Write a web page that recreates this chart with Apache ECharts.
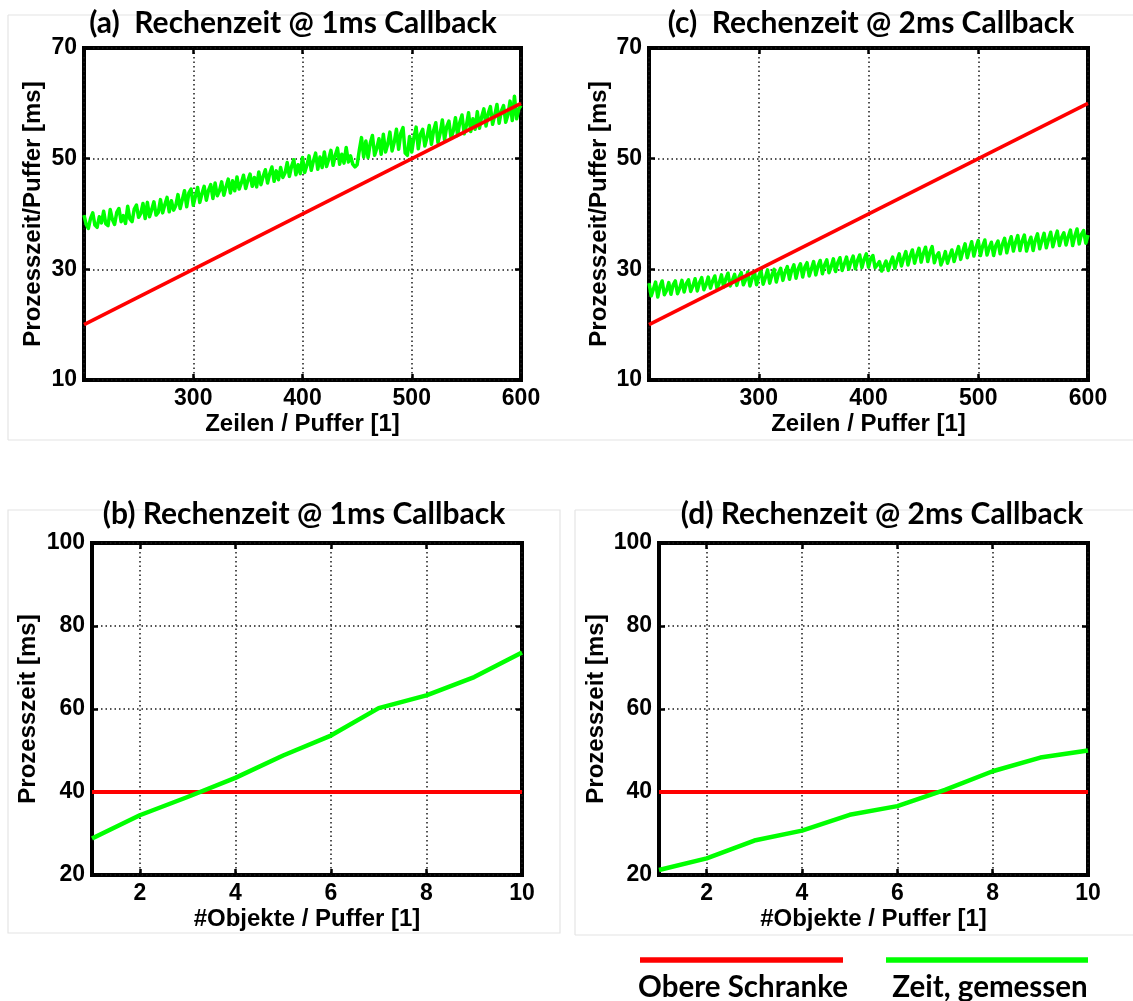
<!DOCTYPE html>
<html><head><meta charset="utf-8">
<script src="https://cdn.jsdelivr.net/npm/echarts@6/dist/echarts.min.js"></script>
<style>html,body{margin:0;padding:0;background:#fff}#c{width:1133px;height:1001px}</style>
</head><body><div id="c"></div>
<script>
// ---- data ----
const zeilen = [200,202,204,206,208,210,212,214,216,218,220,222,224,226,228,230,232,234,236,238,
240,242,244,246,248,250,252,254,256,258,260,262,264,266,268,270,272,274,276,278,
280,282,284,286,288,290,292,294,296,298,300,302,304,306,308,310,312,314,316,318,
320,322,324,326,328,330,332,334,336,338,340,342,344,346,348,350,352,354,356,358,
360,362,364,366,368,370,372,374,376,378,380,382,384,386,388,390,392,394,396,398,
400,402,404,406,408,410,412,414,416,418,420,422,424,426,428,430,432,434,436,438,
440,442,444,446,448,450,452,454,456,458,460,462,464,466,468,470,472,474,476,478,
480,482,484,486,488,490,492,494,496,498,500,502,504,506,508,510,512,514,516,518,
520,522,524,526,528,530,532,534,536,538,540,542,544,546,548,550,552,554,556,558,
560,562,564,566,568,570,572,574,576,578,580,582,584,586,588,590,592,594,596,598,600];
const zeitA = [39.8,38.1,37.4,39.2,40.2,38.0,37.6,39.5,38.4,40.5,
38.2,37.9,40.8,39.0,38.1,40.3,41.0,38.6,39.7,38.3,
41.4,39.1,38.6,40.9,41.6,39.4,40.1,41.9,39.2,42.1,
39.5,40.8,42.2,39.8,40.3,42.6,40.2,41.7,43.0,40.4,
42.4,40.7,41.5,43.5,41.0,42.6,44.2,41.3,43.8,44.5,
41.6,43.2,44.8,42.1,43.7,45.0,42.5,44.3,45.3,42.8,
45.6,43.3,44.2,45.8,43.4,44.9,46.3,43.8,46.0,44.2,
46.7,44.5,45.6,47.0,44.6,46.1,47.2,45.0,46.6,44.9,
47.6,45.3,46.8,48.0,45.6,47.3,48.5,45.9,47.8,46.2,
48.4,46.6,47.4,49.3,46.8,48.6,49.8,47.1,48.9,47.3,
50.2,47.5,48.8,50.5,47.9,49.6,51.0,48.1,50.3,48.4,
51.2,48.6,49.9,51.5,48.8,50.6,51.9,49.0,50.8,49.2,
52.0,49.4,50.5,49.0,48.5,48.9,51.5,53.8,50.3,53.2,
50.2,52.8,54.2,50.6,51.9,53.6,50.8,54.4,51.2,52.6,
54.8,51.4,53.0,55.3,51.7,54.6,55.6,51.0,50.6,54.0,
51.2,53.8,55.7,51.8,54.4,55.3,52.3,53.9,56.0,52.6,
55.1,56.5,52.9,54.6,57.0,53.4,55.8,56.8,53.7,55.0,
57.4,54.2,56.6,57.9,54.5,56.0,58.3,54.9,57.2,55.3,
58.5,55.5,57.6,59.0,55.9,58.2,59.4,56.2,57.9,59.8,
56.4,58.6,59.6,56.6,57.9,60.4,56.9,61.3,57.2,59.0,59.6];
const zeitC = [27.5,25.2,26.4,27.7,25.0,26.9,27.9,25.4,26.2,27.6,
25.5,27.2,27.9,25.6,26.6,28.0,25.9,27.4,28.1,26.0,
27.0,28.3,26.1,27.6,28.5,26.3,27.2,28.6,26.6,27.9,
28.8,26.5,27.6,29.0,26.8,28.3,29.3,27.0,28.0,29.1,
27.1,28.6,29.4,27.2,28.1,29.5,27.0,28.4,29.6,27.2,
28.7,29.8,27.3,28.5,29.9,27.5,29.0,30.0,27.7,29.3,
30.2,28.0,29.5,30.5,28.2,29.8,30.8,28.4,30.1,31.0,
28.6,30.4,31.2,28.8,30.1,31.4,29.0,30.6,31.6,29.2,
30.8,31.7,29.4,30.5,31.9,29.6,31.2,32.1,29.8,31.0,
32.2,30.0,31.4,32.4,30.1,31.6,32.6,30.3,31.8,32.8,
30.4,31.9,32.5,30.3,30.8,31.4,29.7,30.6,31.5,29.8,
31.2,32.2,30.2,31.6,32.8,30.6,32.0,33.2,30.8,32.4,
33.5,31.1,32.6,33.8,31.3,32.9,34.0,31.4,33.1,34.1,
31.2,32.4,33.0,30.8,31.8,33.2,31.1,32.4,33.5,31.4,
32.8,34.1,31.8,33.3,34.6,32.1,33.6,35.0,32.4,34.0,
35.2,32.5,34.2,35.3,32.6,33.9,34.9,32.5,34.3,35.1,
32.8,34.5,35.6,33.0,34.6,35.9,33.3,34.9,36.1,33.4,
35.1,36.2,33.3,34.8,35.8,33.4,35.3,36.4,33.7,35.2,
36.5,33.9,35.4,36.7,34.1,35.6,36.9,34.3,35.8,36.6,
34.4,35.9,37.1,34.3,36.0,37.3,34.6,36.3,37.0,34.7,36.2];
const schrankeX = [200, 600];
const schrankeAC = [20, 60];
const objekte = [1,2,3,4,5,6,7,8,9,10];
const zeitB = [28.8,34.4,38.8,43.4,48.8,53.6,60.2,63.3,67.7,73.6];
const zeitD = [21.2,24.0,28.3,30.7,34.5,36.6,40.5,45.0,48.3,50.0];
const schrankeBD = [40,40,40,40,40,40,40,40,40,40];
const xTicksAC = [200,300,400,500,600];
const xLabelsAC = [300,400,500,600];
const yTicksAC = [10,30,50,70];
const xTicksBD = [2,4,6,8,10];
const yTicksBD = [20,40,60,80,100];
const titles = ['(a)  Rechenzeit @ 1ms Callback','(c)  Rechenzeit @ 2ms Callback','(b) Rechenzeit @ 1ms Callback','(d) Rechenzeit @ 2ms Callback'];
const xNames = ['Zeilen / Puffer [1]','Zeilen / Puffer [1]','#Objekte / Puffer [1]','#Objekte / Puffer [1]'];
const yNames = ['Prozesszeit/Puffer [ms]','Prozesszeit/Puffer [ms]','Prozesszeit [ms]','Prozesszeit [ms]'];
const legendNames = ['Obere Schranke','Zeit, gemessen'];

// ---- layout ----
const grids = [
  {left:84, top:48, width:437, height:332},
  {left:649, top:48, width:439, height:332},
  {left:92, top:543, width:430, height:332},
  {left:659, top:543, width:429, height:332}
];
const titlePos = [[293,8],[871,8],[304,499],[882,499]];
const xRange = [[200,600],[200,600],[1,10],[1,10]];
const yRange = [[10,70],[10,70],[20,100],[20,100]];
const xT = [xTicksAC,xTicksAC,xTicksBD,xTicksBD];
const xL = [xLabelsAC,xLabelsAC,xTicksBD,xTicksBD];
const yT = [yTicksAC,yTicksAC,yTicksBD,yTicksBD];
const xGap = [32,32,32,32];
const yGap = [39,38,52,51];

const RED = '#ff0000', GREEN = '#00ff00';
const tickFont = {color:'#000', fontFamily:'Liberation Sans', fontWeight:'bold', fontSize:23};
const nameFont = {color:'#000', fontFamily:'Liberation Sans', fontWeight:'bold', fontSize:24};
const gridLine = {show:true, lineStyle:{color:'#1a1a1a', width:1.5, type:[1.5,3]}};

const xAxes = [], yAxes = [];
for (let i=0;i<4;i++){
  xAxes.push({type:'value', gridIndex:i, min:xRange[i][0], max:xRange[i][1], position:'bottom',
    axisLine:{show:false},
    axisTick:{show:true, inside:true, length:6, customValues:xT[i], lineStyle:{color:'#000', width:2.5}},
    axisLabel:Object.assign({customValues:xL[i], margin:7}, tickFont),
    splitLine:gridLine,
    name:xNames[i], nameLocation:'middle', nameGap:xGap[i], nameTextStyle:nameFont});
  yAxes.push({type:'value', gridIndex:i, min:yRange[i][0], max:yRange[i][1], position:'left',
    axisLine:{show:false},
    axisTick:{show:true, inside:true, length:6, customValues:yT[i], lineStyle:{color:'#000', width:2.5}},
    axisLabel:Object.assign({customValues:yT[i], margin:7}, tickFont),
    splitLine:gridLine,
    name:yNames[i], nameLocation:'middle', nameGap:yGap[i], nameTextStyle:nameFont});
}
for (let i=0;i<4;i++){
  xAxes.push({type:'value', gridIndex:i, min:xRange[i][0], max:xRange[i][1], position:'top',
    axisLine:{show:false}, axisLabel:{show:false}, splitLine:{show:false},
    axisTick:{show:true, inside:true, length:6, customValues:xT[i], lineStyle:{color:'#000', width:2.5}}});
  yAxes.push({type:'value', gridIndex:i, min:yRange[i][0], max:yRange[i][1], position:'right',
    axisLine:{show:false}, axisLabel:{show:false}, splitLine:{show:false},
    axisTick:{show:true, inside:true, length:6, customValues:yT[i], lineStyle:{color:'#000', width:2.5}}});
}

function pairs(xs, ys){ return xs.map((x,k)=>[x, ys[k]]); }
function line(name, gi, data, color, width){
  return {type:'line', name, xAxisIndex:gi, yAxisIndex:gi, data, showSymbol:false, symbol:'none',
    lineStyle:{color, width, join:'round'}, itemStyle:{color}, animation:false, silent:true, clip:true};
}
const series = [
  line(legendNames[1], 0, pairs(zeilen, zeitA), GREEN, 3.5),
  line(legendNames[0], 0, pairs(schrankeX, schrankeAC), RED, 3.5),
  line(legendNames[1], 1, pairs(zeilen, zeitC), GREEN, 3.5),
  line(legendNames[0], 1, pairs(schrankeX, schrankeAC), RED, 3.5),
  line(legendNames[0], 2, pairs(objekte, schrankeBD), RED, 4),
  line(legendNames[1], 2, pairs(objekte, zeitB), GREEN, 4.5),
  line(legendNames[0], 3, pairs(objekte, schrankeBD), RED, 4),
  line(legendNames[1], 3, pairs(objekte, zeitD), GREEN, 4.5)
];

const titleFont = {color:'#000', fontFamily:'Lato', fontWeight:'bold', fontSize:30};
const frameStyle = {stroke:'#e4e4e4', lineWidth:1.2, fill:null};
const graphic = [
  {type:'line', shape:{x1:8,y1:15,x2:1133,y2:15}, style:frameStyle, silent:true},
  {type:'line', shape:{x1:8,y1:15,x2:8,y2:440}, style:frameStyle, silent:true},
  {type:'line', shape:{x1:8,y1:440,x2:1133,y2:440}, style:frameStyle, silent:true},
  {type:'rect', shape:{x:8,y:510,width:552,height:423}, style:frameStyle, silent:true},
  {type:'line', shape:{x1:575,y1:510,x2:1133,y2:510}, style:frameStyle, silent:true},
  {type:'line', shape:{x1:575,y1:510,x2:575,y2:935}, style:frameStyle, silent:true},
  {type:'line', shape:{x1:575,y1:935,x2:1133,y2:935}, style:frameStyle, silent:true},
  {type:'line', shape:{x1:640,y1:960,x2:843,y2:960}, style:{stroke:RED, lineWidth:5.5}, silent:true},
  {type:'line', shape:{x1:886,y1:960,x2:1088,y2:960}, style:{stroke:GREEN, lineWidth:5.5}, silent:true},
  {type:'text', x:743, y:987, style:{text:legendNames[0], fill:'#000', font:'bold 29.5px Lato', textAlign:'center', textVerticalAlign:'middle'}, silent:true},
  {type:'text', x:990, y:987, style:{text:legendNames[1], fill:'#000', font:'bold 29.5px Lato', textAlign:'center', textVerticalAlign:'middle'}, silent:true}
];

const option = {
  backgroundColor:'#ffffff',
  animation:false,
  title: titles.map((t,i)=>({text:t, left:titlePos[i][0], top:titlePos[i][1], textAlign:'center', textStyle:titleFont, padding:0})),
  grid: grids.map(g=>Object.assign({show:true, borderColor:'#000', borderWidth:4, backgroundColor:'#fff', containLabel:false}, g)),
  xAxis: xAxes,
  yAxis: yAxes,
  series: series,
  graphic: graphic
};
const chart = echarts.init(document.getElementById('c'));
chart.setOption(option);
</script>
</body></html>
